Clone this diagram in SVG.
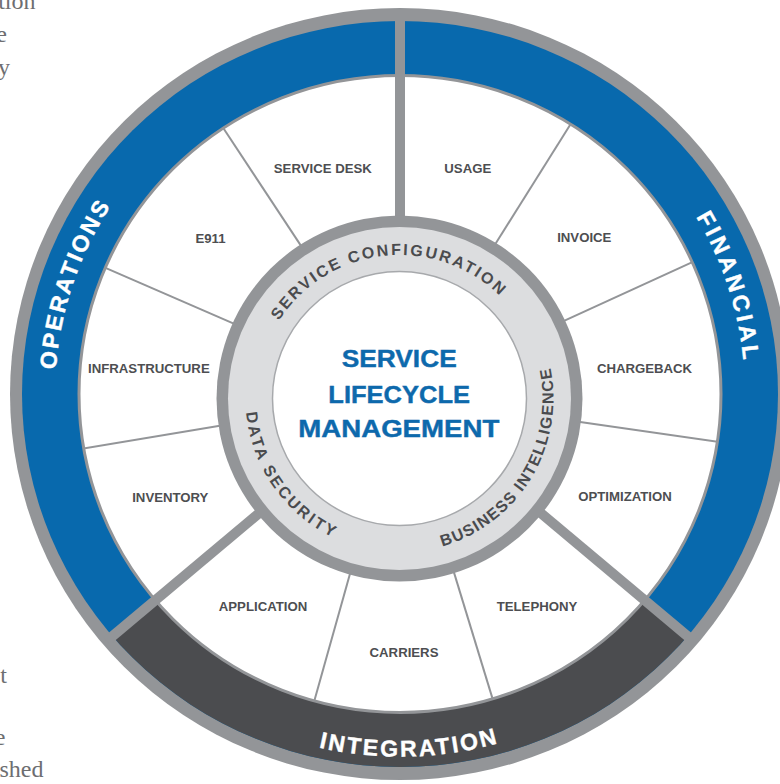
<svg xmlns="http://www.w3.org/2000/svg" width="780" height="784" viewBox="0 0 780 784">
<style>
.seg{font-family:"Liberation Sans",Arial,sans-serif;font-weight:bold;font-size:13.2px;fill:#4d4e51;text-anchor:middle}
.ring{font-family:"Liberation Sans",Arial,sans-serif;font-weight:bold;font-size:16px;fill:#4a4b4e;text-anchor:middle}
.band{font-family:"Liberation Sans",Arial,sans-serif;font-weight:bold;font-size:23px;fill:#ffffff;stroke:#ffffff;stroke-width:0.4;text-anchor:middle}
.title{font-family:"Liberation Sans",Arial,sans-serif;font-weight:bold;font-size:23.5px;fill:#0d69ac;stroke:#0d69ac;stroke-width:0.4;text-anchor:middle}
.thin{stroke:#939598;stroke-width:2;fill:none}
.thick{stroke:#939598;stroke-width:10;fill:none}
.side{font-family:"Liberation Serif","Times New Roman",serif;font-size:24px;fill:#6d6e71;text-anchor:end}
</style>
<defs>
<clipPath id="bandClip"><ellipse cx="400" cy="394" rx="378" ry="373"/></clipPath>
<clipPath id="whiteClip"><ellipse cx="400" cy="394" rx="321" ry="318.5"/></clipPath>
<path id="pSC" d="M258.18,423.42 A143.5,143.5 0 1 1 540.82,423.42"/>
<path id="pBI" d="M300.51,516.47 A154,154 0 1 0 452.17,253.79"/>
<path id="pDS" d="M322.5,265.13 A154,154 0 1 0 517.47,497.49"/>
<path id="pOP" d="M101.22,566.5 A345,345 0 0 1 282,69.81"/>
<path id="pFI" d="M518,69.81 A345,345 0 0 1 698.78,566.5"/>
<path id="pIN" d="M122.16,627.14 A362.7,362.7 0 0 0 677.84,627.14"/>
</defs>
<rect width="780" height="784" fill="#ffffff"/>

<g id="side-text">
<text class="side" x="35.5" y="8.5">tion</text>
<text class="side" x="7" y="41.7">e</text>
<text class="side" x="10" y="74.5">y</text>
<text class="side" x="7" y="683">t</text>
<text class="side" x="5.5" y="745">e</text>
<text class="side" x="43.5" y="777">shed</text>
</g>

<g id="outer-ring">
<ellipse cx="400" cy="394" rx="390" ry="386" fill="#939598"/>
<ellipse cx="400" cy="394" rx="378" ry="373" fill="#0869ad"/>
<path d="M400,394 L783,715.4 A500,500 0 0 1 17,715.4 Z" fill="#4b4c4f" clip-path="url(#bandClip)"/>
<ellipse cx="400" cy="394" rx="321" ry="318.5" fill="#ffffff"/>
</g>

<g id="connectors">
<g clip-path="url(#whiteClip)">
<line class="thin" x1="303.7" y1="249.9" x2="218.3" y2="120.5"/>
<line class="thin" x1="239.5" y1="326.2" x2="97.4" y2="264.4"/>
<line class="thin" x1="227.3" y1="424.6" x2="74.4" y2="449.9"/>
<line class="thin" x1="493.0" y1="247.8" x2="575.4" y2="116.5"/>
<line class="thin" x1="559.1" y1="323.1" x2="700.0" y2="258.6"/>
<line class="thin" x1="573.2" y1="421.0" x2="726.6" y2="443.1"/>
<line class="thin" x1="451.2" y1="563.4" x2="496.5" y2="711.6"/>
<line class="thin" x1="352.6" y1="564.5" x2="310.7" y2="713.7"/>
</g>
<ellipse cx="400" cy="394" rx="321" ry="318.5" fill="none" stroke="#939598" stroke-width="3"/>
<line class="thick" x1="400" y1="220" x2="400" y2="12"/>
<line class="thick" x1="534.1" y1="507.5" x2="693.4" y2="641.2"/>
<line class="thick" x1="265.9" y1="507.5" x2="106.6" y2="641.2"/>
</g>

<g id="band-labels">
<text class="band" style="letter-spacing:2.6px"><textPath href="#pOP" startOffset="293">OPERATIONS</textPath></text>
<text class="band" style="letter-spacing:3.5px"><textPath href="#pFI" startOffset="313">FINANCIAL</textPath></text>
<text class="band" style="letter-spacing:2.4px"><textPath href="#pIN" startOffset="326">INTEGRATION</textPath></text>
</g>

<g id="seg-service-desk"><text class="seg" x="322.8" y="172.7">SERVICE DESK</text></g>
<g id="seg-usage"><text class="seg" x="467.8" y="172.7">USAGE</text></g>
<g id="seg-e911"><text class="seg" x="210.5" y="242.7">E911</text></g>
<g id="seg-invoice"><text class="seg" x="584.3" y="242.3">INVOICE</text></g>
<g id="seg-infrastructure"><text class="seg" x="148.9" y="373.3">INFRASTRUCTURE</text></g>
<g id="seg-chargeback"><text class="seg" x="644.5" y="373">CHARGEBACK</text></g>
<g id="seg-inventory"><text class="seg" x="170.3" y="501.7">INVENTORY</text></g>
<g id="seg-optimization"><text class="seg" x="625" y="501">OPTIMIZATION</text></g>
<g id="seg-application"><text class="seg" x="263" y="611.3">APPLICATION</text></g>
<g id="seg-carriers"><text class="seg" x="404" y="657.3">CARRIERS</text></g>
<g id="seg-telephony"><text class="seg" x="537" y="611.3">TELEPHONY</text></g>

<g id="core">
<circle cx="399.5" cy="398.5" r="183" fill="#939598"/>
<circle cx="399.5" cy="398.5" r="171.5" fill="#dcdddf"/>
<circle cx="399.5" cy="398.5" r="127" fill="#ffffff" stroke="#a7a9ac" stroke-width="1.5"/>
<text class="ring" style="letter-spacing:2.27px"><textPath href="#pSC" startOffset="235">SERVICE CONFIGURATION</textPath></text>
<text class="ring" style="letter-spacing:1.28px"><textPath href="#pBI" startOffset="266">BUSINESS INTELLIGENCE</textPath></text>
<text class="ring" style="letter-spacing:2.66px"><textPath href="#pDS" startOffset="255.8">DATA SECURITY</textPath></text>
<text class="title" x="399.2" y="367.3" textLength="115" lengthAdjust="spacingAndGlyphs">SERVICE</text>
<text class="title" x="399.2" y="403.3" textLength="141.7" lengthAdjust="spacingAndGlyphs">LIFECYCLE</text>
<text class="title" x="398.8" y="436.7" textLength="201" lengthAdjust="spacingAndGlyphs">MANAGEMENT</text>
</g>
</svg>
